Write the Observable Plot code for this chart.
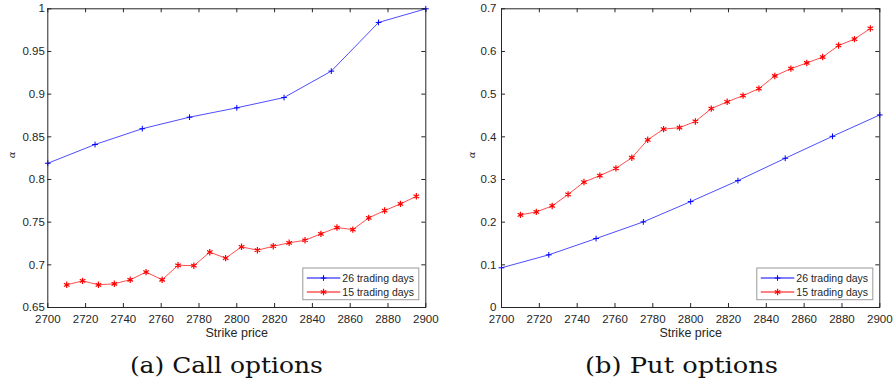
<!DOCTYPE html>
<html><head><meta charset="utf-8">
<script src="https://cdn.jsdelivr.net/npm/d3@7"></script>
<script src="https://cdn.jsdelivr.net/npm/@observablehq/plot@0.6"></script>
<style>
html,body{margin:0;padding:0;background:#fff;}
body{width:895px;height:384px;overflow:hidden;}
#row{display:flex;flex-direction:row;}
#cap{display:block;}
</style></head><body>
<div id="row"></div>
<div id="cap"></div>
<script>
// ---- data ----
const strikes26 = [2700, 2725, 2750, 2775, 2800, 2825, 2850, 2875, 2900];
const strikes15 = [2710, 2718.4, 2726.8, 2735.2, 2743.6, 2752.0, 2760.5, 2768.9, 2777.3, 2785.7, 2794.1, 2802.5,
                   2810.9, 2819.3, 2827.7, 2836.1, 2844.5, 2853.0, 2861.4, 2869.8, 2878.2, 2886.6, 2895];
const callAlpha26 = [0.819, 0.841, 0.8595, 0.873, 0.884, 0.896, 0.927, 0.984, 1.0];
const callAlpha15 = [0.6766, 0.6812, 0.6766, 0.6778, 0.6825, 0.6915, 0.6825, 0.6995, 0.699, 0.7148, 0.7078, 0.7211,
                     0.7171, 0.7218, 0.7258, 0.7288, 0.7363, 0.7437, 0.7413, 0.755, 0.7636, 0.7714, 0.7803];
const putAlpha26 = [0.093, 0.1234, 0.1616, 0.2006, 0.2482, 0.2974, 0.3497, 0.4012, 0.4513];
const putAlpha15 = [0.217, 0.224, 0.238, 0.265, 0.294, 0.309, 0.326, 0.351, 0.393, 0.418, 0.4215, 0.436,
                    0.466, 0.482, 0.4965, 0.513, 0.5426, 0.5597, 0.573, 0.587, 0.614, 0.629, 0.654];
const seriesNames = ["26 trading days", "15 trading days"];
const seriesColors = ["#0000ff", "#ff0000"];
const seriesSymbols = ["plus", "asterisk"];
const xTicks = [2700, 2720, 2740, 2760, 2780, 2800, 2820, 2840, 2860, 2880, 2900];
const callYTicks = [0.65, 0.7, 0.75, 0.8, 0.85, 0.9, 0.95, 1];
const putYTicks = [0, 0.1, 0.2, 0.3, 0.4, 0.5, 0.6, 0.7];
const xLabel = "Strike price";
const yLabel = "α";
const captions = ["(a) Call options", "(b) Put options"];

const ink = "#262626";

function panel(cfg) {
  const {width, height, mL, mR, mT, mB, yDomain, yTicks, yPad, a26, a15, alphaDx} = cfg;
  const d26 = strikes26.map((x, i) => ({x, y: a26[i]}));
  const d15 = strikes15.map((x, i) => ({x, y: a15[i]}));
  const W = width - mL - mR, H = height - mT - mB;
  const svg = Plot.plot({
    width, height, marginLeft: mL, marginRight: mR, marginTop: mT, marginBottom: mB,
    style: {fontFamily: "'Liberation Sans', Arial, sans-serif", fontSize: "11.5px", color: ink, background: "white", overflow: "visible"},
    x: {domain: [2700, 2900]},
    y: {domain: yDomain},
    marks: [
      Plot.axisX({ticks: xTicks, tickSize: 0, tickPadding: 7, tickFormat: d => String(d), label: null, color: ink}),
      Plot.axisY({ticks: yTicks, tickSize: 0, tickPadding: yPad, tickFormat: d3.format("~g"), label: null, color: ink}),
      Plot.tickX(xTicks, {x: d => d, insetTop: H - 4, stroke: ink}),
      Plot.tickX(xTicks, {x: d => d, insetBottom: H - 4, stroke: ink}),
      Plot.tickY(yTicks, {y: d => d, insetRight: W - 4, stroke: ink}),
      Plot.tickY(yTicks, {y: d => d, insetLeft: W - 4, stroke: ink}),
      Plot.line(d26, {x: "x", y: "y", stroke: seriesColors[0], strokeWidth: 0.7}),
      Plot.dot(d26, {x: "x", y: "y", symbol: seriesSymbols[0], stroke: seriesColors[0], r: 2, strokeWidth: 1}),
      Plot.line(d15, {x: "x", y: "y", stroke: seriesColors[1], strokeWidth: 0.7}),
      Plot.dot(d15, {x: "x", y: "y", symbol: seriesSymbols[1], stroke: seriesColors[1], r: 3, strokeWidth: 1.2}),
      Plot.frame({stroke: ink}),
      Plot.text([xLabel], {text: d => d, frameAnchor: "bottom", dy: 29, fontSize: 12.5, fill: ink}),
      Plot.text([yLabel], {text: d => d, frameAnchor: "left", dx: alphaDx, rotate: -90, fontStyle: "italic",
                           fontFamily: "'DejaVu Serif', serif", fontSize: 10, fill: ink})
    ]
  });
  // legend (inside lower-right of frame)
  const bw = 116, bh = 31.7;
  const bx = width - mR - 6.5 - bw, by = height - mB - 7.3 - bh;
  const g = d3.select(svg).append("g")
    .attr("font-family", "'Liberation Sans', Arial, sans-serif").attr("font-size", 10.5).attr("text-anchor", "start");
  g.append("rect").attr("x", bx).attr("y", by).attr("width", bw).attr("height", bh)
    .attr("fill", "white").attr("stroke", "#9a9a9a").attr("stroke-width", 1);
  seriesNames.forEach((name, i) => {
    const cy = by + 10 + i * 14;
    const x1 = bx + 4, x2 = bx + 37.5, cx = (x1 + x2) / 2;
    g.append("line").attr("x1", x1).attr("x2", x2).attr("y1", cy).attr("y2", cy)
      .attr("stroke", seriesColors[i]).attr("stroke-width", 1);
    const sym = i === 0 ? d3.symbolPlus : d3.symbolAsterisk;
    const size = i === 0 ? Math.PI * 4 : Math.PI * 9;
    g.append("path").attr("d", d3.symbol(sym, size)()).attr("transform", `translate(${cx},${cy})`)
      .attr("fill", "none").attr("stroke", seriesColors[i]).attr("stroke-width", i === 0 ? 1 : 1.2);
    g.append("text").attr("x", bx + 39.5).attr("y", cy).attr("dy", "0.35em")
      .attr("text-anchor", "start").attr("fill", ink).text(name);
  });
  return svg;
}

const row = document.getElementById("row");
row.appendChild(panel({width: 450, height: 345, mL: 47.3, mR: 24.7, mT: 8.3, mB: 38,
  yDomain: [0.65, 1], yTicks: callYTicks, yPad: 3, a26: callAlpha26, a15: callAlpha15, alphaDx: -36.3}));
row.appendChild(panel({width: 445, height: 345, mL: 51, mR: 15.7, mT: 8.3, mB: 38,
  yDomain: [0, 0.7], yTicks: putYTicks, yPad: 5, a26: putAlpha26, a15: putAlpha15, alphaDx: -30}));

// captions
const cap = d3.select("#cap").append("svg").attr("width", 895).attr("height", 39);
const capX = [226.4, 681.5];
captions.forEach((c, i) => {
  cap.append("text").attr("x", capX[i]).attr("y", 28).attr("text-anchor", "middle")
    .attr("font-family", "'DejaVu Serif', serif").attr("font-size", 23).attr("fill", "#111")
    .attr("textLength", 193).attr("lengthAdjust", "spacingAndGlyphs").text(c);
});
</script>
</body></html>
